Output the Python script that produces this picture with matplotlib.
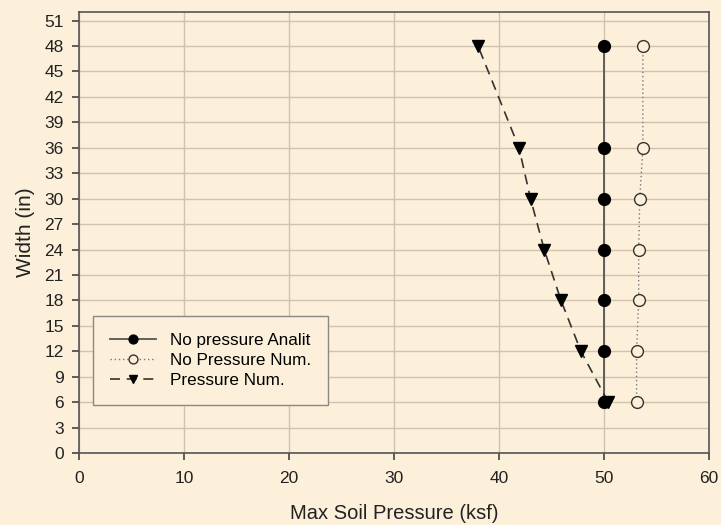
import matplotlib
matplotlib.use("Agg")
import matplotlib.pyplot as plt

plt.rcParams['font.family'] = ['Liberation Sans', 'DejaVu Sans']

width = [6, 12, 18, 24, 30, 36, 48]
analit = [50, 50, 50, 50, 50, 50, 50]
nopress_num = [53.1, 53.1, 53.3, 53.3, 53.4, 53.7, 53.7]
press_num = [50.4, 47.8, 45.9, 44.3, 43.0, 41.9, 38.0]

labels = ["No pressure Analit", "No Pressure Num.", "Pressure Num."]
xticks = list(range(0, 61, 10))
yticks = list(range(0, 52, 3))

bg = '#fdf0da'
fig = plt.figure(figsize=(7.21, 5.25), dpi=100, facecolor=bg)
ax = fig.add_axes([0.1096, 0.1371, 0.8738, 0.8399])
ax.set_facecolor(bg)

ax.plot(analit, width, color='#555555', lw=1.3, marker='o', ms=8.5,
        mfc='black', mec='black', label=labels[0], zorder=3)
ax.plot(nopress_num, width, color='#777777', lw=1.0, ls=(0, (1, 2)), marker='o', ms=8.5,
        mfc=bg, mec='#333333', mew=1.0, label=labels[1], zorder=3)
ax.plot(press_num, width, color='#333333', lw=1.2, ls=(0, (6, 4)), marker='v', ms=8.5,
        mfc='black', mec='black', label=labels[2], zorder=4)

ax.set_xlim(0, 60)
ax.set_ylim(0, 52)
ax.set_xticks(xticks)
ax.set_yticks(yticks)
ax.grid(True, color='#cfc3ad', lw=1.0)
ax.set_axisbelow(True)
for s in ax.spines.values():
    s.set_color('#555555')
    s.set_linewidth(1.2)
ax.tick_params(direction='out', length=5, width=1.2, color='#444444',
               labelsize=12.5, labelcolor='#222222')
ax.tick_params(axis='y', pad=6)
ax.tick_params(axis='x', pad=8)

ax.set_xlabel('Max Soil Pressure (ksf)', fontsize=14.5, color='#222222', labelpad=13)
ax.set_ylabel('Width (in)', fontsize=15, color='#222222', labelpad=7)

leg = ax.legend(loc='lower left', bbox_to_anchor=(0.022, 0.108), frameon=True,
                fancybox=False, fontsize=12.3, handlelength=2.7, borderpad=1.0,
                labelspacing=0.3, handletextpad=0.8, borderaxespad=0,
                markerscale=0.75)
leg.get_frame().set_facecolor(bg)
leg.get_frame().set_edgecolor('#888888')
leg.get_frame().set_alpha(1)
leg.get_frame().set_linewidth(1.0)

fig.savefig('out.png', dpi=100, facecolor=bg)
